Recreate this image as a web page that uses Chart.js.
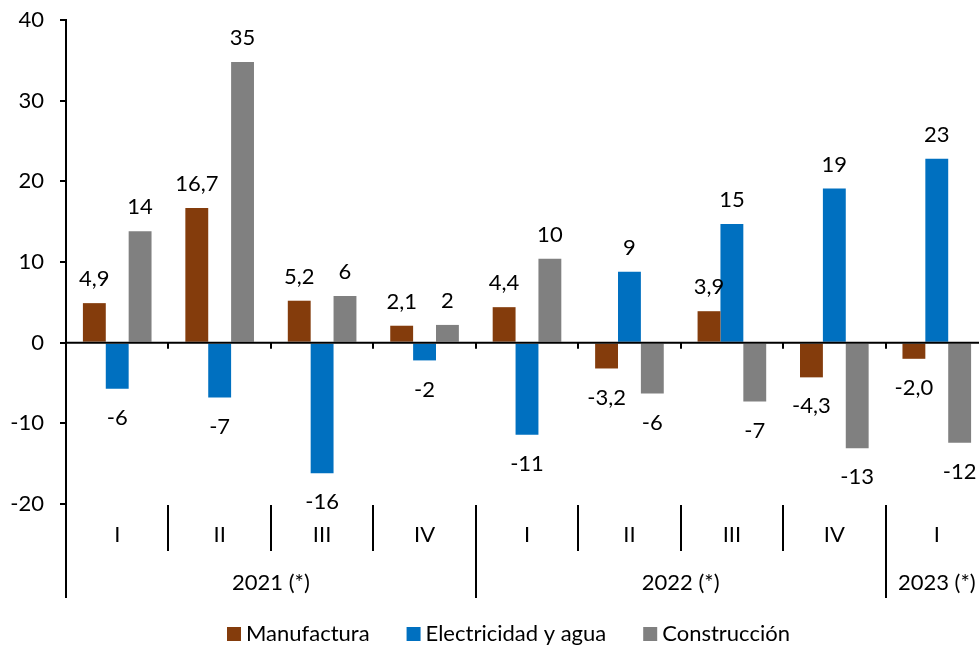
<!DOCTYPE html>
<html>
<head>
<meta charset="utf-8">
<script src="https://cdn.jsdelivr.net/npm/chart.js@4"></script>
<style>
  html, body { margin: 0; padding: 0; background: #fff; overflow: hidden; }
  #wrap { width: 990px; height: 645px; }
</style>
</head>
<body>
<div id="wrap"><canvas id="grafico" width="990" height="645"></canvas></div>
<script>
// datos del grafico
const trimestres = ['I', 'II', 'III', 'IV', 'I', 'II', 'III', 'IV', 'I'];
const anios = [
  { texto: '2021 (*)', desde: 0, hasta: 3 },
  { texto: '2022 (*)', desde: 4, hasta: 7 },
  { texto: '2023 (*)', desde: 8, hasta: 8 }
];
const manufactura = [4.9, 16.7, 5.2, 2.1, 4.4, -3.2, 3.9, -4.3, -2.0];
const electricidad = [-5.7, -6.8, -16.2, -2.2, -11.4, 8.8, 14.7, 19.1, 22.8];
const construccion = [13.8, 34.8, 5.8, 2.2, 10.4, -6.3, -7.3, -13.1, -12.4];
const ticksY = [-20, -10, 0, 10, 20, 30, 40];

const FAMILIA = 'Lato, "Open Sans", sans-serif';
const FUENTE = '22px ' + FAMILIA;
const GROSOR = 2;

// etiquetas encima / debajo de cada barra
const etiquetas = {
  id: 'etiquetas',
  afterDatasetsDraw(chart) {
    const ctx = chart.ctx;
    ctx.save();
    ctx.font = FUENTE;
    ctx.fillStyle = '#000';
    ctx.textAlign = 'center';
    ctx.textBaseline = 'middle';
    chart.data.datasets.forEach((ds, i) => {
      const meta = chart.getDatasetMeta(i);
      meta.data.forEach((bar, j) => {
        const v = ds.data[j];
        const txt = i === 0 ? v.toFixed(1).replace('.', ',') : String(Math.round(v));
        const y = v >= 0 ? bar.y - 24 : bar.y + 29;
        ctx.fillText(txt, bar.x, y);
      });
    });
    ctx.restore();
  }
};

// eje x en dos niveles + leyenda
const ejeX = {
  id: 'ejeX',
  afterDraw(chart) {
    const ctx = chart.ctx;
    const x = chart.scales.x;
    const y = chart.scales.y;
    const area = chart.chartArea;
    const y0 = y.getPixelForValue(0);
    const paso = x.getPixelForValue(1) - x.getPixelForValue(0);
    const borde = i => x.getPixelForValue(i) - paso / 2;
    ctx.save();
    ctx.strokeStyle = '#000';
    ctx.lineWidth = GROSOR;
    // linea del cero
    ctx.beginPath();
    ctx.moveTo(area.left, y0);
    ctx.lineTo(chart.width, y0);
    ctx.stroke();
    // prolongacion del eje y
    ctx.beginPath();
    ctx.moveTo(area.left, area.bottom);
    ctx.lineTo(area.left, 598);
    ctx.stroke();
    // separadores
    for (let i = 1; i < trimestres.length; i++) {
      const px = Math.round(borde(i));
      const finAnio = anios.some(a => a.desde === i);
      ctx.beginPath();
      ctx.moveTo(px, y0);
      ctx.lineTo(px, y0 + 6);
      ctx.moveTo(px, area.bottom + 1);
      ctx.lineTo(px, finAnio ? 598 : 551);
      ctx.stroke();
    }
    ctx.font = FUENTE;
    ctx.fillStyle = '#000';
    ctx.textAlign = 'center';
    ctx.textBaseline = 'middle';
    trimestres.forEach((t, i) => ctx.fillText(t, x.getPixelForValue(i), 535));
    anios.forEach(a => {
      const cx = (x.getPixelForValue(a.desde) + x.getPixelForValue(a.hasta)) / 2;
      ctx.fillText(a.texto, cx, 583);
    });
    // leyenda
    const items = chart.data.datasets;
    const caja = 14, sep = 5, hueco = 37;
    let lx = 227;
    const ly = 634;
    ctx.textAlign = 'left';
    items.forEach(d => {
      ctx.fillStyle = d.backgroundColor;
      ctx.fillRect(lx, ly - 7, caja, caja);
      ctx.fillStyle = '#000';
      ctx.fillText(d.label, lx + caja + sep, ly);
      lx += caja + sep + ctx.measureText(d.label).width + hueco;
    });
    ctx.restore();
  }
};

new Chart(document.getElementById('grafico'), {
  type: 'bar',
  data: {
    labels: trimestres,
    datasets: [
      { label: 'Manufactura', data: manufactura, backgroundColor: '#843C0C' },
      { label: 'Electricidad y agua', data: electricidad, backgroundColor: '#0070C0' },
      { label: 'Construcción', data: construccion, backgroundColor: '#808080' }
    ]
  },
  options: {
    responsive: false,
    animation: false,
    layout: { padding: { top: 20, bottom: 141, right: 2, left: 0 } },
    datasets: { bar: { categoryPercentage: 0.67, barPercentage: 1.0 } },
    plugins: {
      legend: { display: false },
      tooltip: { enabled: false }
    },
    scales: {
      x: { display: false },
      y: {
        min: -20,
        max: 40,
        afterFit: s => { s.width = 66; s.paddingTop = 0; s.paddingBottom = 0; },
        afterBuildTicks: s => { s.ticks = ticksY.map(v => ({ value: v })); },
        grid: { drawOnChartArea: false, drawTicks: true, tickLength: 6, color: '#000', lineWidth: GROSOR },
        border: { display: true, color: '#000', width: GROSOR },
        ticks: { color: '#000', font: { family: FAMILIA, size: 22 }, padding: 16 }
      }
    }
  },
  plugins: [etiquetas, ejeX]
});
</script>
</body>
</html>
